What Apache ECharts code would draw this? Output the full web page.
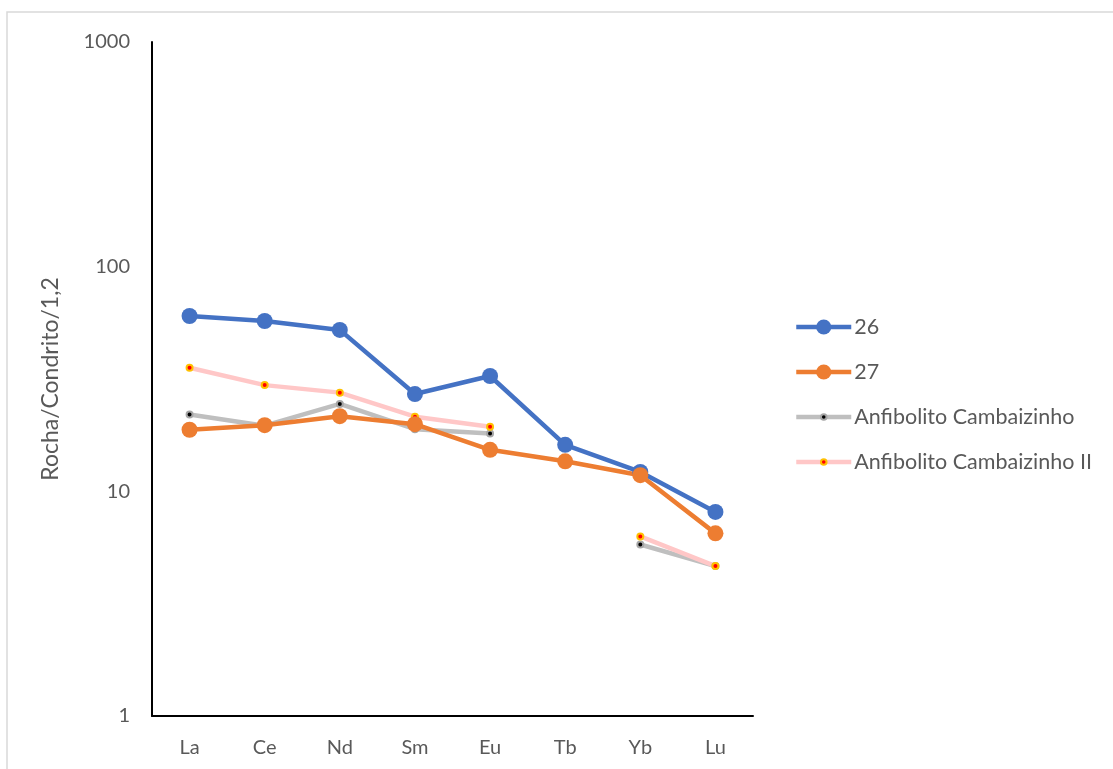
<!DOCTYPE html>
<html>
<head>
<meta charset="utf-8">
<title>Rocha/Condrito</title>
<script src="https://cdn.jsdelivr.net/npm/echarts@6/dist/echarts.min.js"></script>
<style>
  html, body { margin: 0; padding: 0; background: #ffffff; }
  #chart { width: 1113px; height: 769px; }
</style>
</head>
<body>
<div id="chart"></div>
<script>
// Rare-earth elements along the x axis
const elements = ['La', 'Ce', 'Nd', 'Sm', 'Eu', 'Tb', 'Yb', 'Lu'];

// Chondrite-normalised values (rock / chondrite / 1.2)
const sample26 = [60.3, 57.3, 52.3, 27.1, 32.6, 16.1, 12.2, 8.1];
const sample27 = [18.8, 19.7, 21.6, 19.9, 15.3, 13.6, 11.8, 6.5];
const anfibolito = [22.0, 19.6, 24.5, 18.9, 18.1, null, 5.8, 4.65];
const anfibolitoII = [35.5, 29.7, 27.5, 21.5, 19.4, null, 6.3, 4.65];

const textColor = '#595959';
const fontFamily = 'Lato, "Open Sans", sans-serif';

// one legend block per entry so each keeps its own marker size
function legendEntry(name, centerY, iconHeight) {
  return {
    orient: 'vertical',
    left: 794,
    top: centerY - 11,
    padding: 0,
    itemWidth: 55,
    itemHeight: iconHeight,
    itemGap: 0,
    lineStyle: { width: 4.5 },
    textStyle: { color: textColor, fontSize: 21.5, lineHeight: 22, fontFamily: fontFamily, padding: [0, 0, 0, -2] },
    data: [name]
  };
}

const chart = echarts.init(document.getElementById('chart'));

chart.setOption({
  animation: false,
  backgroundColor: '#ffffff',
  textStyle: { fontFamily: fontFamily },
  graphic: [{
    type: 'rect',
    shape: { x: 7, y: 12, width: 1130, height: 790 },
    style: { fill: 'none', stroke: '#d9d9d9', lineWidth: 1.5 },
    silent: true
  }],
  grid: { left: 152, top: 42, width: 601, height: 674 },
  legend: [
    legendEntry('26', 327, 19),
    legendEntry('27', 372, 19),
    legendEntry('Anfibolito Cambaizinho', 417, 7),
    legendEntry('Anfibolito Cambaizinho II', 462, 7)
  ],
  xAxis: {
    type: 'category',
    data: elements,
    boundaryGap: true,
    axisLine: { lineStyle: { color: '#000000', width: 2 } },
    axisTick: { show: false },
    axisLabel: { color: textColor, fontSize: 20, margin: 22, fontFamily: fontFamily },
    splitLine: { show: false }
  },
  yAxis: {
    type: 'log',
    logBase: 10,
    min: 1,
    max: 1000,
    name: 'Rocha/Condrito/1,2',
    nameLocation: 'middle',
    nameGap: 90,
    nameRotate: 90,
    nameTextStyle: { color: textColor, fontSize: 23, fontFamily: fontFamily },
    axisLine: { show: true, lineStyle: { color: '#000000', width: 2 } },
    axisTick: { show: false },
    axisLabel: {
      color: textColor, fontSize: 20, margin: 22, fontFamily: fontFamily,
      formatter: function (v) { return String(Math.round(v)); }
    },
    splitLine: { show: false }
  },
  series: [{
    name: 'Anfibolito Cambaizinho',
    type: 'line',
    data: anfibolito,
    connectNulls: false,
    symbol: 'circle',
    symbolSize: 6,
    lineStyle: { color: '#bfbfbf', width: 4.5 },
    itemStyle: { color: '#000000', borderColor: '#a6a6a6', borderWidth: 2 },
    z: 2
  }, {
    name: 'Anfibolito Cambaizinho II',
    type: 'line',
    data: anfibolitoII,
    connectNulls: false,
    symbol: 'circle',
    symbolSize: 6,
    lineStyle: { color: '#ffc7c7', width: 4.5 },
    itemStyle: { color: '#ff0000', borderColor: '#ffc000', borderWidth: 2 },
    z: 2
  }, {
    name: '26',
    type: 'line',
    data: sample26,
    symbol: 'circle',
    symbolSize: 16,
    lineStyle: { color: '#4472c4', width: 4.5 },
    itemStyle: { color: '#4472c4' },
    z: 3
  }, {
    name: '27',
    type: 'line',
    data: sample27,
    symbol: 'circle',
    symbolSize: 16,
    lineStyle: { color: '#ed7d31', width: 4.5 },
    itemStyle: { color: '#ed7d31' },
    z: 3
  }]
});
</script>
</body>
</html>
